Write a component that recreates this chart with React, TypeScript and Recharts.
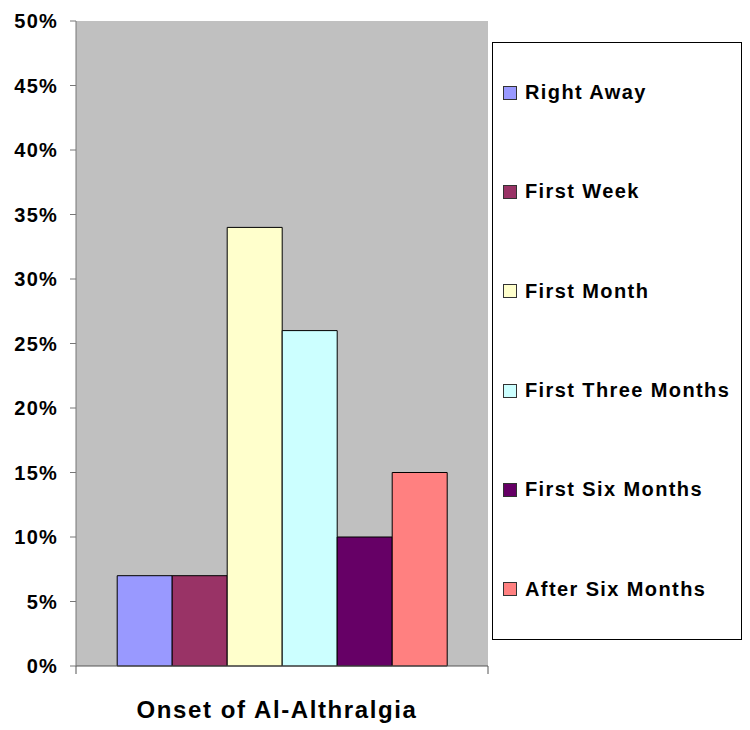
import { BarChart, Bar, XAxis, YAxis, CartesianGrid } from 'recharts';

// Onset of arthralgia, share of patients per period
const CATEGORIES = ['Onset of Al-Althralgia'];
const SERIES = [
  'Right Away',
  'First Week',
  'First Month',
  'First Three Months',
  'First Six Months',
  'After Six Months',
];
const VALUES = [0.07, 0.07, 0.34, 0.26, 0.1, 0.15];
const COLORS = ['#9999FF', '#993366', '#FFFFCC', '#CCFFFF', '#660066', '#FF8080'];
const Y_TICKS = [0, 0.05, 0.1, 0.15, 0.2, 0.25, 0.3, 0.35, 0.4, 0.45, 0.5];

const FONT = 'Arial, "Liberation Sans", sans-serif';

const data = CATEGORIES.map((name) => {
  const row: Record<string, string | number> = { name };
  SERIES.forEach((s, i) => {
    row[s] = VALUES[i];
  });
  return row;
});

/**
 * Excel-style tick marks between categories, plus the category label
 */
function CategoryTick(props: {
  x?: number;
  y?: number;
  payload?: { value: string; offset?: number };
}) {
  const { x = 0, y = 0, payload } = props;
  const half = payload?.offset ?? 0;
  return (
    <g>
      <line x1={x - half} y1={y} x2={x - half} y2={y + 8} stroke="#555" />
      <line x1={x + half} y1={y} x2={x + half} y2={y + 8} stroke="#555" />
      <text
        x={x - 5}
        y={y + 52}
        textAnchor="middle"
        fill="#000"
        style={{ fontFamily: FONT, fontWeight: 'bold', fontSize: 24, letterSpacing: 1.6 }}
      >
        {payload?.value}
      </text>
    </g>
  );
}

function LegendBox() {
  return (
    <div
      style={{
        position: 'absolute',
        left: 492,
        top: 42,
        width: 248,
        height: 596,
        border: '1px solid #000',
        background: '#fff',
        display: 'flex',
        flexDirection: 'column',
      }}
    >
      {SERIES.map((s, i) => (
        <div
          key={s}
          style={{
            flex: 1,
            display: 'flex',
            alignItems: 'center',
            paddingLeft: 10,
          }}
        >
          <span
            style={{
              width: 12,
              height: 12,
              background: COLORS[i],
              border: '1px solid #333',
              marginRight: 8,
            }}
          />
          <span
            style={{
              fontFamily: FONT,
              fontWeight: 'bold',
              fontSize: 20,
              letterSpacing: 1.4,
              color: '#000',
            }}
          >
            {s}
          </span>
        </div>
      ))}
    </div>
  );
}

export default function App() {
  return (
    <div style={{ position: 'absolute', left: 0, top: 0, width: 750, height: 730, background: '#fff' }}>
      <BarChart
        width={750}
        height={730}
        data={data}
        margin={{ top: 21, right: 262, left: 0, bottom: 0 }}
        barCategoryGap="10%"
        barGap={0}
      >
        <CartesianGrid fill="#C0C0C0" stroke="none" horizontal={false} vertical={false} />
        <XAxis
          dataKey="name"
          height={64}
          tickSize={0}
          tickMargin={0}
          tickLine={false}
          interval={0}
          axisLine={{ stroke: '#555' }}
          tick={<CategoryTick />}
        />
        <YAxis
          width={76}
          domain={[0, 0.5]}
          ticks={Y_TICKS}
          interval={0}
          tickFormatter={(v: number) => `${Math.round(v * 100)}%`}
          tick={{ fill: '#000', fontSize: 20, fontWeight: 'bold', fontFamily: FONT, letterSpacing: 1.2 }}
          tickSize={6}
          tickMargin={12}
          axisLine={{ stroke: '#777' }}
          tickLine={{ stroke: '#777' }}
        />
        {SERIES.map((s, i) => (
          <Bar
            key={s}
            dataKey={s}
            fill={COLORS[i]}
            stroke="#000"
            strokeWidth={1}
            isAnimationActive={false}
          />
        ))}
      </BarChart>
      <LegendBox />
    </div>
  );
}
